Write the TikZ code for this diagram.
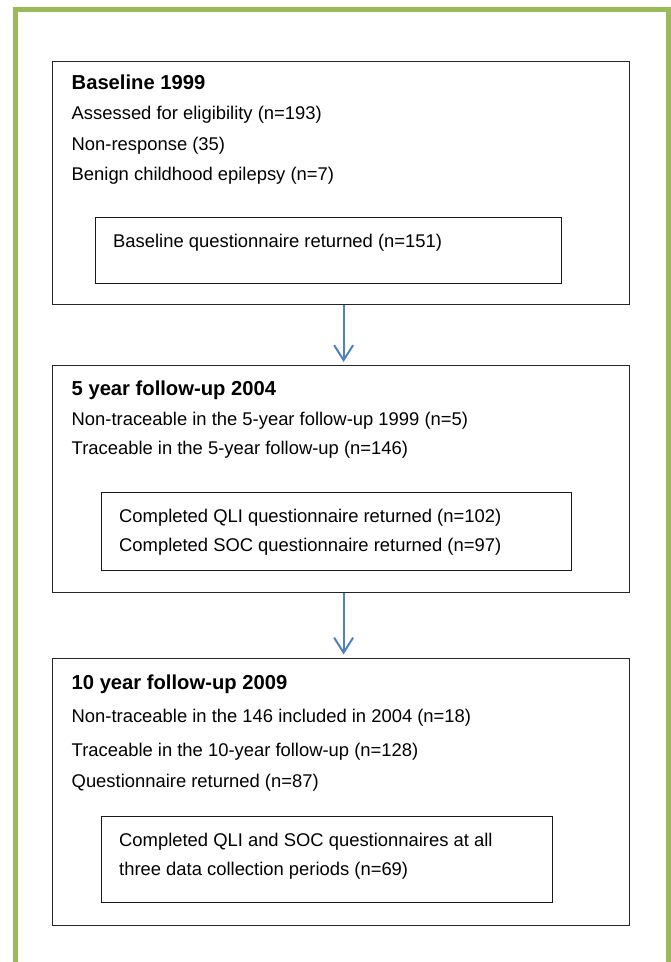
\documentclass[tikz,border=0pt]{standalone}
\usepackage{fontspec}
\setmainfont{Liberation Sans}
\usetikzlibrary{arrows.meta}
\definecolor{framegreen}{HTML}{9BBB59}
\definecolor{arrowblue}{HTML}{4F81BD}
\tikzset{
  outerbox/.style={draw=black!85, line width=1.2pt, inner sep=0pt, anchor=north west},
  innerbox/.style={draw=black!90, line width=1.2pt, inner sep=0pt, anchor=north west},
  txt/.style={inner sep=0pt, anchor=base west, font=\fontsize{18.4}{22}\selectfont},
  head/.style={inner sep=0pt, anchor=base west, font=\fontsize{20.2}{24}\selectfont\bfseries},
  flow/.style={draw=arrowblue, line width=2pt, -{Straight Barb[length=15pt, width=19pt, line width=2pt]}, shorten >=3pt}
}
\begin{document}
\begin{tikzpicture}[x=1pt,y=-1pt]
\useasboundingbox (0,0) rectangle (670,962);
\fill[white] (0,0) rectangle (670,962);
% green frame
\draw[framegreen, line width=5pt] (15.8,962) -- (15.8,9.8) -- (668,9.8) -- (668,962);

% box 1
\node[outerbox, minimum width=577pt, minimum height=243pt] (b1) at (52,61) {};
\node[innerbox, minimum width=466pt, minimum height=66pt] (i1) at (95,217) {};
\node[head] (h1) at (71.5,89) {Baseline 1999};
\node[txt] (l11) at (71.5,119) {Assessed for eligibility (n=193)};
\node[txt] (l12) at (71.5,150.5) {Non-response (35)};
\node[txt] (l13) at (71.5,180.5) {Benign childhood epilepsy (n=7)};
\node[txt] (l14) at (113,247) {Baseline questionnaire returned (n=151)};

% box 2
\node[outerbox, minimum width=577pt, minimum height=227pt] (b2) at (52,365) {};
\node[innerbox, minimum width=470pt, minimum height=78pt] (i2) at (101,492) {};
\node[head] (h2) at (71.5,395) {5 year follow-up 2004};
\node[txt] (l21) at (71.5,425) {Non-traceable in the 5-year follow-up 1999 (n=5)};
\node[txt] (l22) at (71.5,454) {Traceable in the 5-year follow-up (n=146)};
\node[txt] (l23) at (119,522) {Completed QLI questionnaire returned (n=102)};
\node[txt] (l24) at (119,551) {Completed SOC questionnaire returned (n=97)};

% box 3
\node[outerbox, minimum width=577pt, minimum height=267.5pt] (b3) at (52,657.5) {};
\node[innerbox, minimum width=451pt, minimum height=86pt] (i3) at (101,816) {};
\node[head] (h3) at (71.5,689) {10 year follow-up 2009};
\node[txt] (l31) at (71.5,722.5) {Non-traceable in the 146 included in 2004 (n=18)};
\node[txt] (l32) at (71.5,756) {Traceable in the 10-year follow-up (n=128)};
\node[txt] (l33) at (71.5,787) {Questionnaire returned (n=87)};
\node[txt] (l34) at (119,846) {Completed QLI and SOC questionnaires at all};
\node[txt] (l35) at (119,875) {three data collection periods (n=69)};

% arrows
\draw[flow] ([xshift=2.5pt]b1.south) -- ([xshift=2.5pt]b2.north);
\draw[flow] ([xshift=2.5pt]b2.south) -- ([xshift=2.5pt]b3.north);
\end{tikzpicture}
\end{document}
